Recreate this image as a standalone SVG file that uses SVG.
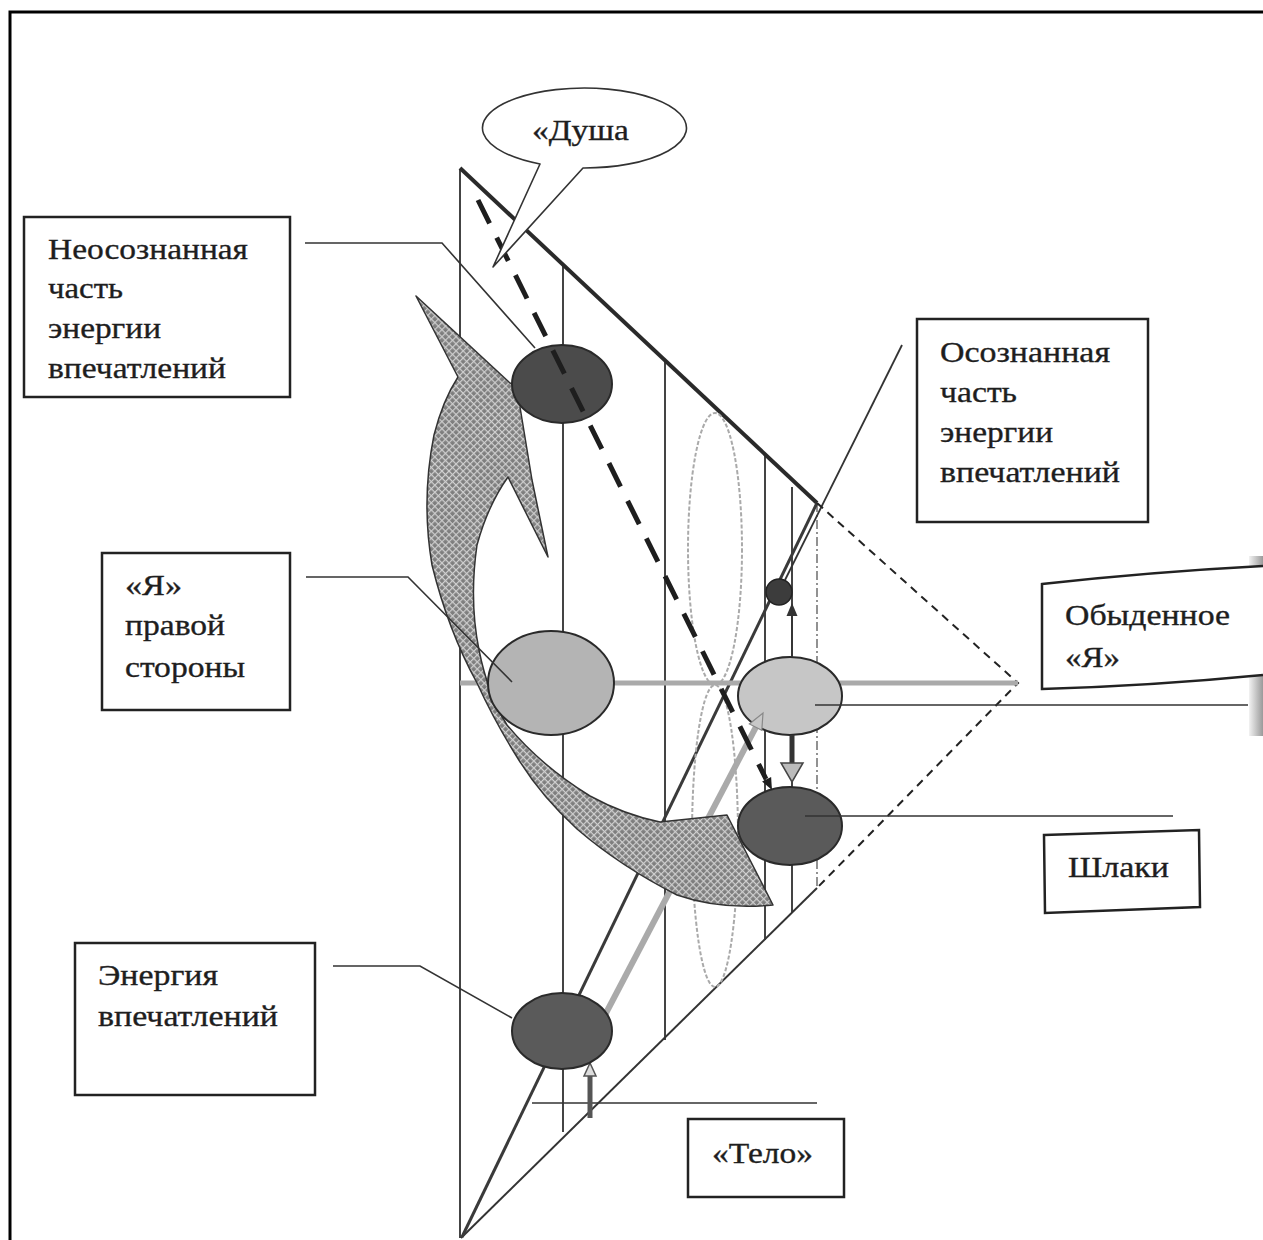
<svg xmlns="http://www.w3.org/2000/svg" width="1263" height="1240" viewBox="0 0 1263 1240">
<style>
.box{fill:#fff;stroke:#222;stroke-width:2.5}
.lbl{font-family:"Liberation Serif","Times New Roman",serif;font-size:30px;fill:#1e1e1e;stroke:#1e1e1e;stroke-width:0.35}
.thin{fill:none;stroke:#333;stroke-width:1.6}
.vert{fill:none;stroke:#444;stroke-width:2}
.lens{fill:none;stroke:#aaa;stroke-width:2;stroke-dasharray:4 2}
.ell{stroke:#2a2a2a;stroke-width:2}
</style>
<defs>
<pattern id="hatch" width="5" height="5" patternUnits="userSpaceOnUse" patternTransform="rotate(45)">
<rect width="5" height="5" fill="#7e7e7e"/>
<path d="M0,0.6H5M0.6,0V5" stroke="#cfcfcf" stroke-width="1.2"/>
</pattern>
<linearGradient id="edge" x1="0" y1="0" x2="1" y2="0">
<stop offset="0" stop-color="#f2f2f2"/>
<stop offset="1" stop-color="#9a9a9a"/>
</linearGradient>
</defs>
<rect width="1263" height="1240" fill="#fff"/>
<rect x="1249" y="556" width="14" height="180" fill="url(#edge)"/>
<path d="M10,1240V12H1263" fill="none" stroke="#000" stroke-width="3"/>

<g id="connectors">
<line class="vert" x1="460" y1="170" x2="460" y2="1238"/>
<line class="vert" x1="563" y1="264" x2="563" y2="1132"/>
<line class="vert" x1="665" y1="359" x2="665" y2="1040"/>
<line class="vert" x1="765" y1="454" x2="765" y2="940" stroke-width="2.5"/>
<line class="vert" x1="792" y1="487" x2="792" y2="913" stroke-width="1.6"/>
<line x1="817" y1="503" x2="817" y2="888" stroke="#777" stroke-width="1.6" stroke-dasharray="9 3 2 3"/>
<line x1="460" y1="168" x2="817" y2="503" stroke="#2a2a2a" stroke-width="4"/>
<line x1="461" y1="1238" x2="817" y2="888" stroke="#333" stroke-width="2"/>
<line x1="462" y1="1237" x2="817" y2="503" stroke="#3a3a3a" stroke-width="3"/>
<line x1="902" y1="345" x2="785" y2="580" stroke="#333" stroke-width="1.8"/>
<path d="M817,503L1018,683L817,888" fill="none" stroke="#222" stroke-width="2" stroke-dasharray="8 6"/>
<line x1="460" y1="683" x2="1018" y2="683" stroke="#aaa" stroke-width="5"/>
<ellipse class="lens" cx="715" cy="549" rx="27" ry="136"/>
<ellipse class="lens" cx="715" cy="836" rx="23" ry="151"/>
<line class="thin" x1="532" y1="1103" x2="817" y2="1103"/>
<line x1="590" y1="1118" x2="590" y2="1075" stroke="#555" stroke-width="5"/>
<polygon points="590,1063 584,1076 596,1076" fill="#ddd" stroke="#555" stroke-width="1.5"/>
</g>

<g id="node-obydennoe-ellipse">
<ellipse class="ell" cx="790" cy="696" rx="52" ry="39" fill="#c6c6c6"/>
</g>

<g id="grey-arrow">
<line x1="605" y1="1015" x2="757" y2="725" stroke="#aaa" stroke-width="6"/>
<polygon points="763,713 761.8,730.4 749.4,724" fill="#c8c8c8" stroke="#888" stroke-width="1.2"/>
</g>

<g id="curved-arrow">
<path d="M416,296 L510,383 L540,392 L520,407 L532,480 L548,557 L508,477 Q488,505 477,545 Q469,600 479,650 Q488,695 507,725 Q540,765 590,796 Q625,815 660,822 L727,815 L773,905 Q720,910 677,895 Q620,866 577,829 Q540,795 517,757 Q495,722 477,683 Q448,630 432,565 Q421,500 434,435 Q443,400 458,377 Z" fill="url(#hatch)" stroke="#333" stroke-width="1.5" stroke-linejoin="round"/>
</g>

<g id="node-upper-ellipse"><ellipse class="ell" cx="562" cy="384" rx="50" ry="39" fill="#4b4b4b"/></g>
<g id="node-ya-ellipse"><ellipse class="ell" cx="551" cy="683" rx="63" ry="52" fill="#b4b4b4"/></g>
<g id="node-shlaki-ellipse"><ellipse class="ell" cx="790" cy="826" rx="52" ry="39" fill="#5a5a5a"/></g>
<g id="node-energy-ellipse"><ellipse class="ell" cx="562" cy="1031" rx="50" ry="38" fill="#5a5a5a"/></g>
<g id="node-small-circle"><circle cx="779" cy="592" r="13" fill="#3c3c3c" stroke="#222" stroke-width="1.5"/></g>

<g id="connectors-top">
<line x1="478" y1="200" x2="766" y2="779" stroke="#1e1e1e" stroke-width="5" stroke-dasharray="26 16"/>
<polygon points="772,790 771.1,777.1 762.1,781.5" fill="#1e1e1e"/>
<line x1="792" y1="657" x2="792" y2="614" stroke="#333" stroke-width="1.6"/>
<polygon points="792,603 786.5,616 797.5,616" fill="#333"/>
<line x1="792" y1="735" x2="792" y2="764" stroke="#333" stroke-width="5"/>
<polygon points="781,763 803,763 792,782" fill="#bbb" stroke="#444" stroke-width="1.5"/>
<polyline class="thin" points="305,243 442,243 535,348"/>
<polyline class="thin" points="306,577 408,577 512,682"/>
<polyline class="thin" points="333,966 420,966 512,1018"/>
<line class="thin" x1="815" y1="705" x2="1248" y2="705"/>
<line class="thin" x1="805" y1="816" x2="1173" y2="816"/>
</g>

<g id="node-dusha">
<path d="M540,164 A102,40 0 1 1 583,168 L493,267 Z" fill="#fff" stroke="#333" stroke-width="1.6" stroke-linejoin="round"/>
<text class="lbl" x="532" y="140" textLength="97" lengthAdjust="spacingAndGlyphs">«Душа</text>
</g>

<g id="node-neosoznannaya">
<rect class="box" x="24" y="217" width="266" height="180"/>
<text class="lbl" x="48" y="259" textLength="200" lengthAdjust="spacingAndGlyphs">Неосознанная</text>
<text class="lbl" x="48" y="298" textLength="75" lengthAdjust="spacingAndGlyphs">часть</text>
<text class="lbl" x="48" y="338" textLength="113" lengthAdjust="spacingAndGlyphs">энергии</text>
<text class="lbl" x="48" y="378" textLength="178" lengthAdjust="spacingAndGlyphs">впечатлений</text>
</g>

<g id="node-osoznannaya">
<rect class="box" x="917" y="319" width="231" height="203"/>
<text class="lbl" x="940" y="362" textLength="170" lengthAdjust="spacingAndGlyphs">Осознанная</text>
<text class="lbl" x="940" y="402" textLength="77" lengthAdjust="spacingAndGlyphs">часть</text>
<text class="lbl" x="940" y="442" textLength="113" lengthAdjust="spacingAndGlyphs">энергии</text>
<text class="lbl" x="940" y="482" textLength="180" lengthAdjust="spacingAndGlyphs">впечатлений</text>
</g>

<g id="node-obydennoe">
<path d="M1263,566 Q1150,572 1042,584 L1042,689 Q1150,686 1263,675" fill="#fff" stroke="#222" stroke-width="2.5"/>
<text class="lbl" x="1065" y="625" textLength="165" lengthAdjust="spacingAndGlyphs">Обыденное</text>
<text class="lbl" x="1065" y="667" textLength="55" lengthAdjust="spacingAndGlyphs">«Я»</text>
</g>

<g id="node-ya-pravoy">
<rect class="box" x="102" y="553" width="188" height="157"/>
<text class="lbl" x="125" y="595" textLength="57" lengthAdjust="spacingAndGlyphs">«Я»</text>
<text class="lbl" x="125" y="635" textLength="100" lengthAdjust="spacingAndGlyphs">правой</text>
<text class="lbl" x="125" y="677" textLength="120" lengthAdjust="spacingAndGlyphs">стороны</text>
</g>

<g id="node-energiya">
<rect class="box" x="75" y="943" width="240" height="152"/>
<text class="lbl" x="98" y="985" textLength="120" lengthAdjust="spacingAndGlyphs">Энергия</text>
<text class="lbl" x="98" y="1026" textLength="180" lengthAdjust="spacingAndGlyphs">впечатлений</text>
</g>

<g id="node-shlaki">
<path class="box" d="M1044,835 L1199,830 L1200,907 L1045,913 Z"/>
<text class="lbl" x="1068" y="877" textLength="101" lengthAdjust="spacingAndGlyphs">Шлаки</text>
</g>

<g id="node-telo">
<rect class="box" x="688" y="1119" width="156" height="78"/>
<text class="lbl" x="712" y="1163" textLength="101" lengthAdjust="spacingAndGlyphs">«Тело»</text>
</g>
</svg>
